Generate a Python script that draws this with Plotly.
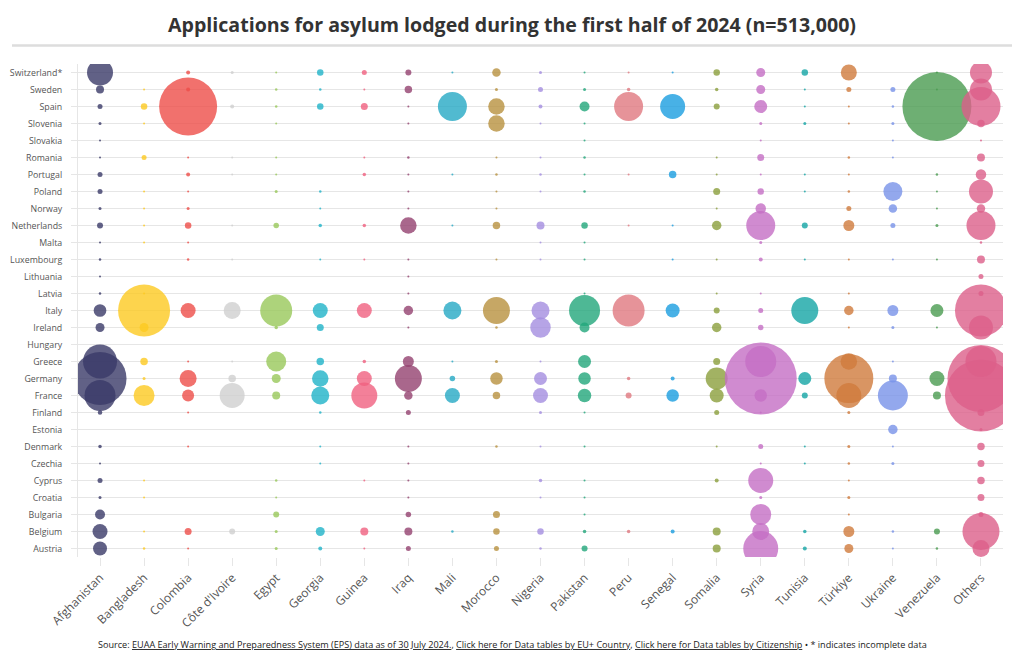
import plotly.graph_objects as go

# Reporting countries, bottom to top
countries = ["Austria", "Belgium", "Bulgaria", "Croatia", "Cyprus", "Czechia", "Denmark", "Estonia",
             "Finland", "France", "Germany", "Greece", "Hungary", "Ireland", "Italy", "Latvia",
             "Lithuania", "Luxembourg", "Malta", "Netherlands", "Norway", "Poland", "Portugal",
             "Romania", "Slovakia", "Slovenia", "Spain", "Sweden", "Switzerland*"]

citizenships = ["Afghanistan", "Bangladesh", "Colombia", "Côte d'Ivoire", "Egypt", "Georgia", "Guinea",
                "Iraq", "Mali", "Morocco", "Nigeria", "Pakistan", "Peru", "Senegal", "Somalia", "Syria",
                "Tunisia", "Türkiye", "Ukraine", "Venezuela", "Others"]

# Applications per citizenship, in the order of `countries`
afghanistan = [1372, 1575, 700, 63, 175, 7, 86, 0, 142, 6727, 19663, 8092, 0, 567, 1130, 44, 7, 44, 7, 252, 63, 175, 175, 16, 16, 63, 175, 448, 4732]
bangladesh = [44, 7, 0, 16, 28, 0, 0, 0, 0, 3087, 63, 394, 0, 567, 18928, 7, 0, 0, 16, 28, 7, 7, 0, 175, 0, 28, 296, 28, 0]
colombia = [28, 343, 0, 0, 0, 0, 28, 0, 16, 1008, 2023, 7, 0, 0, 1575, 0, 0, 44, 16, 296, 63, 16, 112, 7, 0, 0, 23548, 112, 112]
cote_divoire = [0, 252, 0, 0, 0, 0, 0, 0, 0, 4375, 394, 7, 0, 0, 2023, 0, 0, 7, 0, 7, 0, 0, 7, 7, 0, 0, 112, 0, 63]
egypt = [63, 63, 252, 7, 44, 0, 0, 0, 0, 448, 567, 2800, 0, 86, 7168, 0, 0, 0, 0, 212, 0, 63, 7, 28, 0, 16, 44, 44, 16]
georgia = [112, 567, 0, 0, 0, 28, 16, 0, 44, 2268, 1906, 394, 0, 343, 1575, 0, 0, 7, 0, 86, 7, 44, 0, 0, 0, 0, 296, 44, 296]
guinea = [7, 448, 0, 0, 7, 0, 0, 0, 0, 4732, 1575, 86, 0, 0, 1575, 0, 0, 28, 0, 86, 0, 0, 86, 7, 0, 0, 343, 7, 175]
iraq = [175, 448, 212, 7, 16, 7, 16, 0, 175, 506, 5103, 847, 0, 28, 632, 7, 16, 7, 0, 1906, 28, 28, 7, 44, 0, 7, 16, 394, 252]
mali = [0, 44, 0, 0, 0, 0, 0, 0, 0, 1575, 212, 7, 0, 0, 2268, 0, 0, 0, 0, 7, 0, 0, 7, 0, 0, 0, 5887, 0, 28]
morocco = [175, 296, 343, 0, 0, 0, 44, 0, 0, 394, 1094, 63, 0, 44, 5103, 0, 0, 7, 0, 394, 7, 16, 44, 7, 0, 1906, 1906, 63, 506]
nigeria = [44, 296, 0, 7, 86, 0, 7, 0, 63, 1575, 1183, 28, 0, 2942, 2268, 0, 0, 7, 16, 448, 0, 7, 44, 16, 0, 7, 112, 175, 63]
pakistan = [252, 86, 28, 7, 7, 0, 7, 0, 16, 1276, 1094, 1183, 0, 700, 6727, 7, 0, 7, 16, 296, 0, 44, 16, 44, 7, 28, 700, 63, 16]
peru = [0, 86, 0, 0, 0, 0, 0, 0, 0, 252, 86, 0, 0, 0, 7168, 0, 0, 0, 0, 7, 0, 0, 7, 0, 0, 0, 5887, 86, 2]
senegal = [0, 112, 0, 0, 0, 0, 0, 0, 0, 1094, 112, 0, 0, 0, 1372, 0, 0, 7, 0, 16, 0, 0, 394, 0, 0, 0, 4375, 0, 16]
somalia = [448, 448, 0, 0, 112, 0, 7, 0, 175, 1372, 3388, 343, 0, 632, 252, 7, 0, 7, 0, 632, 7, 343, 7, 16, 0, 0, 252, 86, 296]
syria = [8575, 2023, 3087, 63, 4375, 7, 175, 0, 28, 1094, 36288, 6727, 0, 212, 175, 28, 0, 112, 63, 5887, 772, 296, 7, 343, 7, 63, 1183, 567, 567]
tunisia = [112, 86, 0, 0, 0, 2, 7, 0, 0, 252, 1183, 0, 0, 0, 5103, 0, 0, 7, 0, 252, 0, 7, 7, 0, 0, 63, 16, 16, 296]
turkiye = [567, 847, 28, 63, 7, 44, 63, 0, 63, 4375, 16807, 1906, 0, 16, 632, 7, 0, 7, 0, 847, 175, 44, 7, 44, 0, 7, 16, 175, 1792]
ukraine = [28, 44, 0, 0, 0, 63, 16, 632, 0, 6300, 448, 16, 0, 63, 847, 0, 0, 7, 0, 175, 506, 2527, 0, 16, 7, 63, 44, 175, 0]
venezuela = [44, 252, 0, 0, 0, 0, 0, 0, 0, 448, 1575, 0, 0, 7, 1183, 0, 0, 28, 0, 63, 28, 7, 44, 0, 0, 0, 33327, 16, 16]
others = [2023, 9583, 175, 343, 394, 343, 394, 63, 343, 36288, 31423, 6727, 0, 4032, 18928, 175, 175, 448, 44, 5887, 506, 4032, 772, 448, 28, 394, 10647, 3388, 3388]

series = [afghanistan, bangladesh, colombia, cote_divoire, egypt, georgia, guinea, iraq, mali, morocco,
          nigeria, pakistan, peru, senegal, somalia, syria, tunisia, turkiye, ukraine, venezuela, others]

colors = ["#3a3a68", "#fdc921", "#ee4d48", "#d0d0d0", "#98c85a", "#1fb3c8", "#f06080", "#93416f",
          "#25a9c4", "#b8913e", "#a48de0", "#22a67a", "#e07880", "#1a9de0", "#8b9f3c", "#c46ec4",
          "#14a5a5", "#cf7a3c", "#7892e8", "#4a9b50", "#dc5f8a"]

SIZEREF = 14

# page body has an 8px margin: lay the figure out in page pixels shifted by OFF
OFF = 8
W, H = 1020 - OFF, 650 - OFF
L, R, T, B = 78, 1003, 64, 557          # plot area in page pixels
PW, PH = R - L, B - T

def px(xp):
    return (xp - L) / PW

def py(yp):
    return (B - yp) / PH

fig = go.Figure()
for name, vals, col in zip(citizenships, series, colors):
    xs, ys, ss = [], [], []
    for c, v in zip(countries, vals):
        if v > 0:
            xs.append(name)
            ys.append(c)
            ss.append(v)
    fig.add_trace(go.Scatter(
        x=xs, y=ys, mode="markers", name=name,
        marker=dict(size=ss, sizemode="area", sizeref=SIZEREF, sizemin=1,
                    color=col, opacity=0.8, line=dict(width=0)),
        hovertemplate="%{x} in %{y}: %{marker.size:,}<extra></extra>",
    ))

grid = "#e6e6e6"
fig.update_layout(
    width=W, height=H,
    margin=dict(l=L - OFF, r=W - (R - OFF), t=T - OFF, b=H - (B - OFF), autoexpand=False),
    paper_bgcolor="white", plot_bgcolor="white",
    showlegend=False,
    font=dict(family="Open Sans, sans-serif", color="#444"),
    title=dict(text="<b>Applications for asylum lodged during the first half of 2024 (n=513,000)</b>",
               x=(512 - OFF) / W, xanchor="center", y=1 - (25 - OFF) / H, yanchor="middle",
               font=dict(size=19.6, color="#333", family="Open Sans, sans-serif")),
    xaxis=dict(type="category", categoryorder="array", categoryarray=citizenships,
               range=[-0.5, len(citizenships) - 0.5], showgrid=False, zeroline=False,
               ticks="outside", ticklen=8, tickcolor=grid, tickangle=-45, automargin=False,
               tickfont=dict(size=12, color="#555"), showline=False, fixedrange=True),
    yaxis=dict(type="category", categoryorder="array", categoryarray=countries,
               range=[-0.5, len(countries) - 0.5], showgrid=True, gridcolor=grid, gridwidth=1,
               zeroline=False, ticks="outside", ticklen=6, tickcolor=grid, automargin=False,
               ticklabelstandoff=7, tickfont=dict(size=8.8, color="#555"),
               showline=True, linecolor=grid, linewidth=1, fixedrange=True),
)

# separator under title
fig.add_shape(type="line", xref="paper", yref="paper",
              x0=px(12), x1=px(1012), y0=py(45.5), y1=py(45.5),
              line=dict(color="#dddddd", width=2.5))

u = lambda s: '<span style="text-decoration:underline">' + s + "</span>"
source = ("Source: " + u("EUAA Early Warning and Preparedness System (EPS) data as of 30 July 2024.") + ", "
          + u("Click here for Data tables by EU+ Country") + ", "
          + u("Click here for Data tables by Citizenship") + " • * indicates incomplete data")
fig.add_annotation(text=source, xref="paper", yref="paper",
                   x=px(512), y=py(644), xanchor="center", yanchor="middle",
                   showarrow=False, font=dict(size=9.1, color="#222", family="Open Sans, sans-serif"))

fig.write_html("out.html")
